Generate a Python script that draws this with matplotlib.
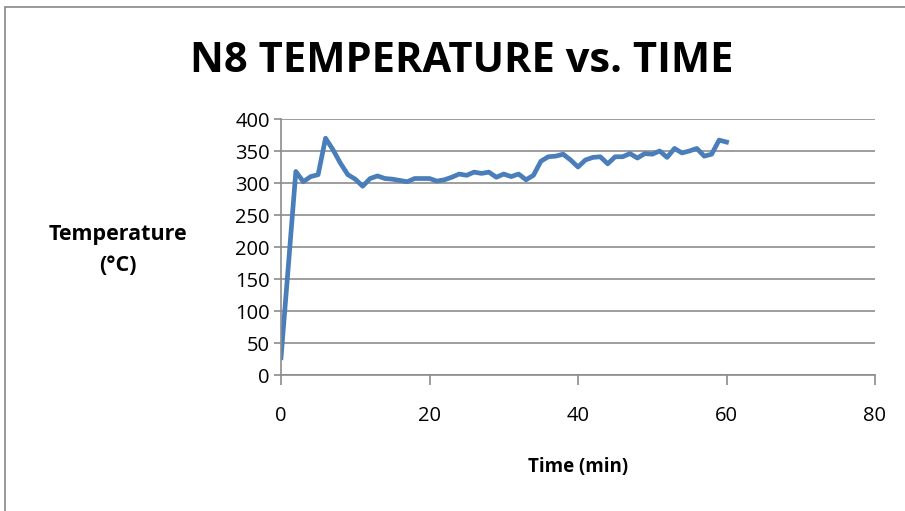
import matplotlib.pyplot as plt
from matplotlib.patches import Rectangle

# temperature log, one reading per minute
time_min = list(range(0, 61))
temp_c = [27, 172, 318, 302, 310, 313, 370, 352, 331, 313,
          306, 295, 307, 311, 307, 306, 304, 302, 307, 307,
          307, 303, 305, 309, 314, 312, 317, 315, 317, 309,
          314, 310, 314, 305, 312, 334, 341, 342, 345, 336,
          325, 336, 340, 341, 330, 341, 341, 346, 339, 346,
          345, 350, 340, 354, 347, 350, 354, 342, 345, 367,
          364]
x_ticks = [0, 20, 40, 60, 80]
y_ticks = [0, 50, 100, 150, 200, 250, 300, 350, 400]

plt.rcParams['font.family'] = ['Open Sans', 'DejaVu Sans']

fig = plt.figure(figsize=(9.05, 5.11), dpi=100)
# outer chart border
fig.patches.append(Rectangle((5 / 905, -0.05), 1.2, 1 - 7 / 511 + 0.05,
                             transform=fig.transFigure, fill=False,
                             edgecolor='#888888', linewidth=1.2))

ax = fig.add_axes([281 / 905, 1 - 375 / 511, 594 / 905, 256 / 511])
ax.plot(time_min, temp_c, color='#4A7EBB', linewidth=3.4, solid_joinstyle='round')

ax.set_xlim(0, 80)
ax.set_ylim(0, 400)
ax.set_xticks(x_ticks)
ax.set_yticks(y_ticks)
ax.grid(axis='y', color='#8c8c8c', linewidth=1.2)
ax.set_axisbelow(True)
for s in ['top', 'right']:
    ax.spines[s].set_visible(False)
for s in ['left', 'bottom']:
    ax.spines[s].set_color('#8c8c8c')
    ax.spines[s].set_linewidth(1.2)
ax.tick_params(axis='both', colors='#8c8c8c', labelcolor='black', labelsize=14.5, width=1.2)
ax.tick_params(axis='x', length=7, pad=15)
ax.tick_params(axis='y', length=5, pad=3)

fig.text(462 / 905, 1 - 61 / 511, 'N8 TEMPERATURE vs. TIME', ha='center', va='center',
         fontsize=30, fontweight='bold')
fig.text(118 / 905, 1 - 250 / 511, 'Temperature\n(°C)', ha='center', va='center',
         fontsize=15.5, fontweight='bold', linespacing=1.6)
fig.text(578 / 905, 1 - 467 / 511, 'Time (min)', ha='center', va='center',
         fontsize=13.5, fontweight='bold')

fig.savefig('out.png', dpi=100)
